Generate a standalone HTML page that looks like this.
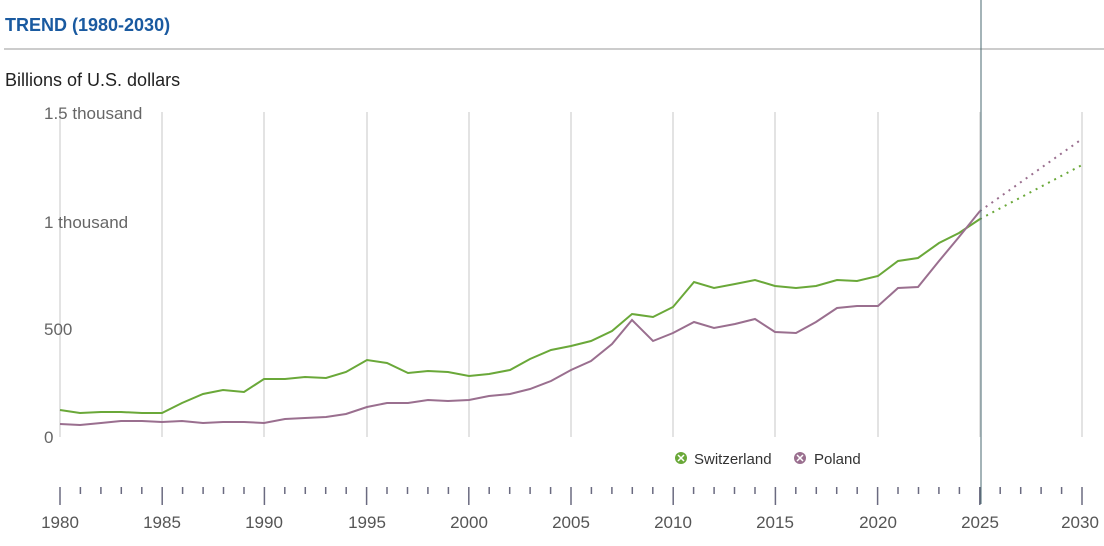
<!DOCTYPE html>
<html><head><meta charset="utf-8"><style>
body{margin:0;background:#fff;font-family:"Liberation Sans",sans-serif;}
</style></head><body>
<svg width="1104" height="541" xmlns="http://www.w3.org/2000/svg" font-family="Liberation Sans, sans-serif">
<text x="5" y="31" font-size="18" font-weight="bold" fill="#1a5aa0">TREND (1980-2030)</text>
<line x1="4" y1="49" x2="1104" y2="49" stroke="#999" stroke-width="1"/>
<text x="5" y="86" font-size="18" fill="#222">Billions of U.S. dollars</text>
<g stroke="#e3e3e3" stroke-width="2">
<line x1="60" y1="112" x2="60" y2="437"/><line x1="162" y1="112" x2="162" y2="437"/><line x1="264" y1="112" x2="264" y2="437"/><line x1="367" y1="112" x2="367" y2="437"/><line x1="469" y1="112" x2="469" y2="437"/><line x1="571" y1="112" x2="571" y2="437"/><line x1="673" y1="112" x2="673" y2="437"/><line x1="775" y1="112" x2="775" y2="437"/><line x1="878" y1="112" x2="878" y2="437"/><line x1="980" y1="112" x2="980" y2="437"/><line x1="1082" y1="112" x2="1082" y2="437"/>
</g>
<g font-size="17" fill="#666">
<text x="44" y="119">1.5 thousand</text>
<text x="44" y="228">1 thousand</text>
<text x="44" y="335">500</text>
<text x="44" y="443">0</text>
</g>
<polyline fill="none" stroke="#6aa839" stroke-width="2" points="60,410 80,413 101,412 121,412 142,413 162,413 182,403 203,394 223,390 244,392 264,379 285,379 305,377 326,378 346,372 367,360 387,363 408,373 428,371 448,372 469,376 489,374 510,370 530,359 551,350 571,346 591,341 612,331 632,314 653,317 673,307 694,282 714,288 735,284 755,280 775,286 796,288 816,286 837,280 857,281 878,276 898,261 918,258 939,243 959,233 980,219"/>
<polyline fill="none" stroke="#9a6f8f" stroke-width="2" points="60,424 80,425 101,423 121,421 142,421 162,422 182,421 203,423 223,422 244,422 264,423 285,419 305,418 326,417 346,414 367,407 387,403 408,403 428,400 448,401 469,400 489,396 510,394 530,389 551,381 571,370 591,361 612,344 632,320 653,341 673,333 694,322 714,328 735,324 755,319 775,332 796,333 816,322 837,308 857,306 878,306 898,288 918,287 939,261 959,237 980,211"/>
<line x1="980" y1="219" x2="1082" y2="165" stroke="#6aa839" stroke-width="2" stroke-dasharray="2,5"/>
<line x1="980" y1="211" x2="1082" y2="139" stroke="#9a6f8f" stroke-width="2" stroke-dasharray="2,5"/>
<line x1="981" y1="0" x2="981" y2="504" stroke="#4a6a70" stroke-width="1"/>
<circle cx="681" cy="458" r="6" fill="#6aa839"/>
<path d="M678,455 l6,6 M684,455 l-6,6" stroke="#fff" stroke-width="1.5"/>
<text x="694" y="464" font-size="15" fill="#333">Switzerland</text>
<circle cx="800" cy="458" r="6" fill="#9a6f8f"/>
<path d="M797,455 l6,6 M803,455 l-6,6" stroke="#fff" stroke-width="1.5"/>
<text x="814" y="464" font-size="15" fill="#333">Poland</text>
<g stroke="#6a6a80" stroke-width="1.5">
<line x1="60" x2="60" y1="487" y2="505"/><line x1="80.4" x2="80.4" y1="487" y2="494"/><line x1="100.9" x2="100.9" y1="487" y2="494"/><line x1="121.3" x2="121.3" y1="487" y2="494"/><line x1="141.8" x2="141.8" y1="487" y2="494"/>
<line x1="162.2" x2="162.2" y1="487" y2="505"/><line x1="182.6" x2="182.6" y1="487" y2="494"/><line x1="203.1" x2="203.1" y1="487" y2="494"/><line x1="223.5" x2="223.5" y1="487" y2="494"/><line x1="244" x2="244" y1="487" y2="494"/>
<line x1="264.4" x2="264.4" y1="487" y2="505"/><line x1="284.8" x2="284.8" y1="487" y2="494"/><line x1="305.3" x2="305.3" y1="487" y2="494"/><line x1="325.7" x2="325.7" y1="487" y2="494"/><line x1="346.2" x2="346.2" y1="487" y2="494"/>
<line x1="366.6" x2="366.6" y1="487" y2="505"/><line x1="387" x2="387" y1="487" y2="494"/><line x1="407.5" x2="407.5" y1="487" y2="494"/><line x1="427.9" x2="427.9" y1="487" y2="494"/><line x1="448.4" x2="448.4" y1="487" y2="494"/>
<line x1="468.8" x2="468.8" y1="487" y2="505"/><line x1="489.2" x2="489.2" y1="487" y2="494"/><line x1="509.7" x2="509.7" y1="487" y2="494"/><line x1="530.1" x2="530.1" y1="487" y2="494"/><line x1="550.6" x2="550.6" y1="487" y2="494"/>
<line x1="571" x2="571" y1="487" y2="505"/><line x1="591.4" x2="591.4" y1="487" y2="494"/><line x1="611.9" x2="611.9" y1="487" y2="494"/><line x1="632.3" x2="632.3" y1="487" y2="494"/><line x1="652.8" x2="652.8" y1="487" y2="494"/>
<line x1="673.2" x2="673.2" y1="487" y2="505"/><line x1="693.6" x2="693.6" y1="487" y2="494"/><line x1="714.1" x2="714.1" y1="487" y2="494"/><line x1="734.5" x2="734.5" y1="487" y2="494"/><line x1="755" x2="755" y1="487" y2="494"/>
<line x1="775.4" x2="775.4" y1="487" y2="505"/><line x1="795.8" x2="795.8" y1="487" y2="494"/><line x1="816.3" x2="816.3" y1="487" y2="494"/><line x1="836.7" x2="836.7" y1="487" y2="494"/><line x1="857.2" x2="857.2" y1="487" y2="494"/>
<line x1="877.6" x2="877.6" y1="487" y2="505"/><line x1="898" x2="898" y1="487" y2="494"/><line x1="918.5" x2="918.5" y1="487" y2="494"/><line x1="938.9" x2="938.9" y1="487" y2="494"/><line x1="959.4" x2="959.4" y1="487" y2="494"/>
<line x1="979.8" x2="979.8" y1="487" y2="505"/><line x1="1000.2" x2="1000.2" y1="487" y2="494"/><line x1="1020.7" x2="1020.7" y1="487" y2="494"/><line x1="1041.1" x2="1041.1" y1="487" y2="494"/><line x1="1061.6" x2="1061.6" y1="487" y2="494"/>
<line x1="1082" x2="1082" y1="487" y2="505"/>
</g>
<g font-size="17" fill="#555" text-anchor="middle">
<text x="60" y="528">1980</text><text x="162" y="528">1985</text><text x="264" y="528">1990</text><text x="367" y="528">1995</text><text x="469" y="528">2000</text><text x="571" y="528">2005</text><text x="673" y="528">2010</text><text x="775" y="528">2015</text><text x="878" y="528">2020</text><text x="980" y="528">2025</text><text x="1080" y="528">2030</text>
</g>
</svg>
</body></html>
